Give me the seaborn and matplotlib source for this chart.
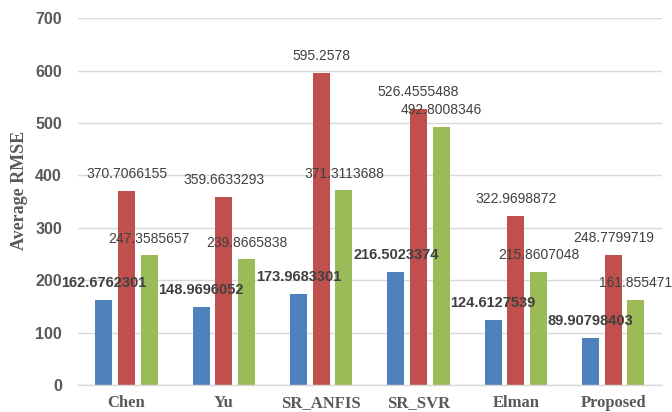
import matplotlib
matplotlib.use("Agg")
import matplotlib.pyplot as plt
import seaborn as sns
import pandas as pd

categories = ["Chen", "Yu", "SR_ANFIS", "SR_SVR", "Elman", "Proposed"]
series_a = [162.6762301, 148.9696052, 173.9683301, 216.5023374, 124.6127539, 89.90798403]
series_b = [370.7066155, 359.6633293, 595.2578, 526.4555488, 322.9698872, 248.7799719]
series_c = [247.3585657, 239.8665838, 371.3113688, 492.8008346, 215.8607048, 161.855471]
label_a = ["162.6762301", "148.9696052", "173.9683301", "216.5023374", "124.6127539", "89.90798403"]
label_b = ["370.7066155", "359.6633293", "595.2578", "526.4555488", "322.9698872", "248.7799719"]
label_c = ["247.3585657", "239.8665838", "371.3113688", "492.8008346", "215.8607048", "161.855471"]
series_names = ["A", "B", "C"]
yticks = [0, 100, 200, 300, 400, 500, 600, 700]

rows = []
for name, vals in zip(series_names, [series_a, series_b, series_c]):
    for cat, v in zip(categories, vals):
        rows.append({"category": cat, "series": name, "value": v})
df = pd.DataFrame(rows)

sns.set_theme(style="white")
plt.rcParams["font.family"] = ["Liberation Sans", "DejaVu Sans"]

fig = plt.figure(figsize=(6.72, 4.12), dpi=100)
ax = fig.add_axes([0.116, 0.0655, 0.869, 0.8905])

palette = ["#4f81bd", "#c0504d", "#9bbb59"]
sns.barplot(data=df, x="category", y="value", hue="series", order=categories,
            hue_order=series_names, palette=palette, saturation=1, width=0.7,
            gap=0.25, ax=ax, legend=False, linewidth=0)

ax.set_ylim(0, 700)
ax.set_xlim(-0.5, 5.5)
ax.set_yticks(yticks)
ax.yaxis.grid(True, color="#d9d9d9", linewidth=1)
ax.set_axisbelow(True)
for s in ["top", "right", "left"]:
    ax.spines[s].set_visible(False)
ax.spines["bottom"].set_color("#d9d9d9")
ax.spines["bottom"].set_linewidth(1)
ax.tick_params(axis="both", length=0)
ax.tick_params(axis="y", pad=11.5)
ax.tick_params(axis="x", pad=7)

for t in ax.get_yticklabels():
    t.set_fontweight("bold")
    t.set_fontsize(11.5)
    t.set_color("#595959")
for t in ax.get_xticklabels():
    t.set_family("Liberation Serif")
    t.set_fontweight("bold")
    t.set_fontsize(12)
    t.set_color("#595959")

ax.set_xlabel("")
ax.set_ylabel("Average RMSE", family="Liberation Serif", fontweight="bold",
              fontsize=13, color="#595959")
ax.yaxis.set_label_coords(-0.085, 0.53)

labels_all = [label_a, label_b, label_c]
for i, cont in enumerate(ax.containers):
    ax.bar_label(cont, labels=labels_all[i], padding=7,
                 fontsize=10 if i else 10.5,
                 fontweight="bold" if i == 0 else "normal",
                 color="#404040")

fig.savefig("out.png", dpi=100)
